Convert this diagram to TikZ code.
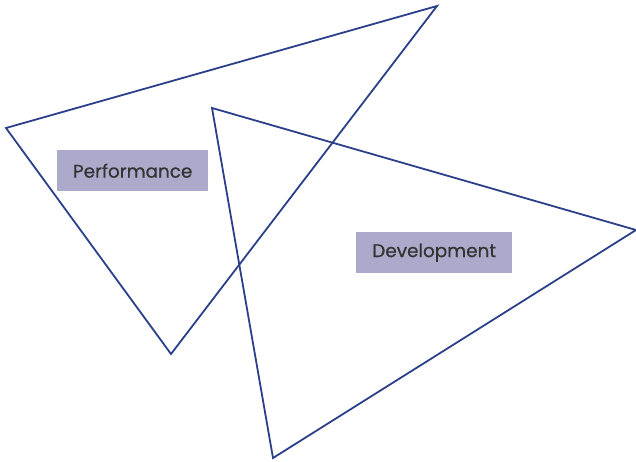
\documentclass[tikz,border=0pt]{standalone}
\usepackage{fontspec}
\setmainfont{Poppins}[FakeBold=0.6]
\definecolor{edge}{HTML}{2B3F8A}
\definecolor{boxfill}{HTML}{ABAACB}
\definecolor{txt}{HTML}{333333}
\begin{document}
\begin{tikzpicture}[x=1pt,y=-1pt,
  tri/.style={draw=edge,line width=1.8pt,line join=miter},
  lbl/.style={fill=boxfill,text=txt,font=\fontsize{18.4}{21}\selectfont,inner sep=0pt,anchor=north west}]
\useasboundingbox (0,0) rectangle (636,462);
\coordinate (a1) at (6,128);
\coordinate (a2) at (437,6);
\coordinate (a3) at (171,354);
\coordinate (b1) at (212,108);
\coordinate (b2) at (636,230);
\coordinate (b3) at (273,458);
\draw[tri] (a1) -- (a2) -- (a3) -- cycle;
\draw[tri] (b1) -- (b2) -- (b3) -- cycle;
\node[lbl,minimum width=151pt,minimum height=41pt] (perf) at (57,150) {Performance};
\node[lbl,minimum width=156pt,minimum height=41pt] (dev) at (356,232) {Development};
\end{tikzpicture}
\end{document}
